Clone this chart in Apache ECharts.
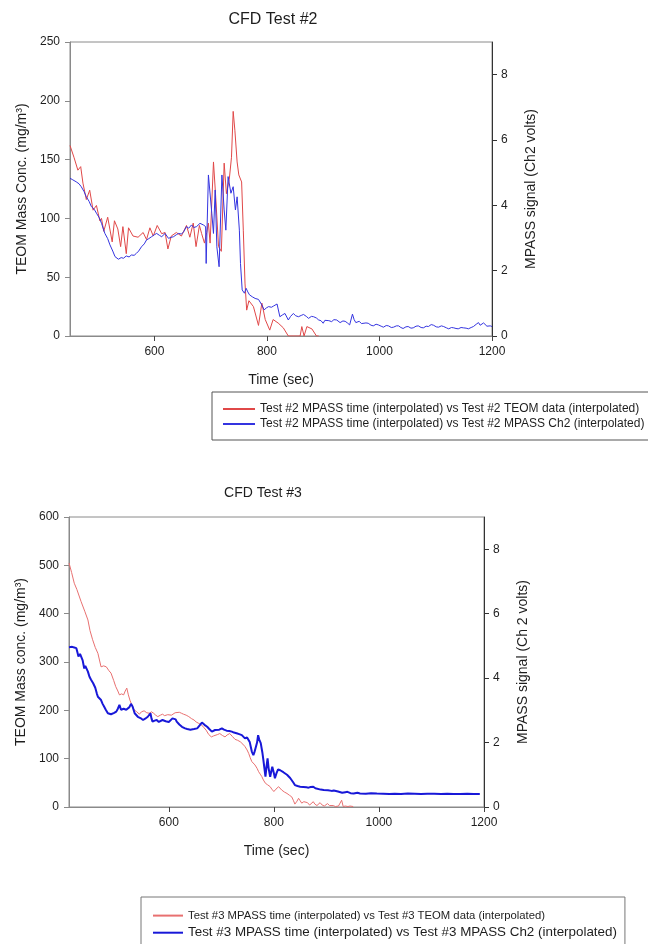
<!DOCTYPE html>
<html>
<head>
<meta charset="utf-8">
<script src="https://cdn.jsdelivr.net/npm/echarts@6/dist/echarts.min.js"></script>
<style>html,body{margin:0;padding:0;background:#fff;}#c{width:648px;height:944px;}</style>
</head>
<body>
<div id="c"></div>
<script>
// ---- Chart 1 (CFD Test #2) data: [time sec, value]
const teom2 = [[450,162],[457,152],[464,141],[469,144],[473,130],[479,116],[485,124],[491,107],[497,111],[503,98],[506,100],[510,89],[517,101],[525,80],[529,98],[535,91],[540,76],[544,93],[550,70],[554,92],[562,85],[571,84],[580,88],[586,82],[592,92],[598,85],[605,94],[613,87],[619,88],[624,74],[630,85],[639,88],[648,85],[657,94],[663,84],[669,96],[674,76],[680,94],[684,87],[689,79],[693,88],[696,96],[699,79],[705,148],[709,118],[714,76],[719,72],[724,147],[728,121],[733,133],[737,152],[740,191],[743,175],[747,148],[750,137],[755,131],[758,90],[761,45],[764,22],[768,30],[776,25],[785,9],[791,28],[797,14],[805,5],[811,14],[820,11],[829,7],[838,0],[848,0],[859,0],[862,8],[866,0],[871,8],[880,6],[888,0],[892,0]];
const mpass2 = [[450,4.83],[455,4.78],[461,4.72],[466,4.66],[470,4.57],[475,4.42],[479,4.26],[484,4.12],[488,3.96],[493,3.88],[497,3.76],[502,3.62],[506,3.45],[512,3.14],[517,2.98],[521,2.79],[526,2.6],[530,2.43],[536,2.35],[541,2.4],[545,2.38],[550,2.45],[555,2.42],[559,2.48],[564,2.47],[568,2.53],[572,2.6],[577,2.73],[582,2.82],[586,2.94],[590,2.98],[595,3.04],[600,3.1],[604,3.14],[609,3.08],[613,3.04],[619,3.14],[625,2.99],[630,3.02],[634,3.04],[639,3.1],[643,3.14],[648,3.12],[652,3.19],[657,3.35],[661,3.3],[666,3.4],[670,3.32],[675,3.35],[681,3.45],[687,3.4],[691,3.35],[692,2.22],[696,4.93],[698,4.98],[702,3.76],[705,3.14],[708,4.47],[711,2.73],[715,2.12],[720,4.93],[724,3.86],[727,3.24],[731,4.88],[736,4.37],[740,4.57],[744,3.86],[747,4.26],[751,3.24],[753,2.22],[756,1.41],[760,1.31],[763,1.46],[766,1.35],[769,1.26],[774,1.2],[779,1.15],[785,1.12],[791,0.95],[795,0.8],[799,0.86],[803,0.9],[808,0.88],[812,0.92],[818,0.98],[823,0.59],[828,0.65],[832,0.69],[838,0.49],[842,0.6],[847,0.69],[851,0.62],[856,0.59],[861,0.63],[865,0.66],[870,0.6],[874,0.54],[879,0.6],[883,0.59],[888,0.55],[892,0.49],[896,0.47],[900,0.39],[903,0.48],[906,0.54],[910,0.47],[915,0.44],[919,0.5],[924,0.49],[930,0.41],[935,0.46],[939,0.45],[943,0.4],[947,0.34],[952,0.67],[955,0.5],[958,0.41],[961,0.47],[964,0.45],[968,0.38],[971,0.34],[976,0.4],[980,0.39],[985,0.33],[989,0.31],[994,0.36],[998,0.34],[1003,0.3],[1007,0.27],[1012,0.32],[1016,0.31],[1021,0.26],[1025,0.27],[1030,0.31],[1034,0.31],[1038,0.26],[1042,0.23],[1047,0.28],[1051,0.29],[1056,0.24],[1060,0.25],[1065,0.3],[1069,0.31],[1074,0.26],[1078,0.25],[1083,0.3],[1087,0.29],[1092,0.35],[1096,0.33],[1101,0.28],[1105,0.27],[1110,0.31],[1114,0.29],[1119,0.25],[1123,0.22],[1128,0.26],[1132,0.25],[1136,0.23],[1140,0.22],[1145,0.26],[1149,0.25],[1154,0.24],[1158,0.22],[1163,0.26],[1167,0.29],[1172,0.36],[1176,0.41],[1179,0.33],[1182,0.34],[1185,0.4],[1188,0.37],[1191,0.3],[1194,0.27],[1197,0.31],[1200,0.29]];

// ---- Chart 2 (CFD Test #3) data: [time sec, value]
const teom3 = [[410,505],[415,485],[420,463],[425,450],[433,425],[440,405],[446,387],[450,365],[455,346],[460,330],[465,318],[471,290],[476,292],[481,290],[486,282],[490,277],[495,262],[499,249],[503,240],[506,232],[510,234],[514,232],[517,240],[520,246],[523,232],[526,221],[530,210],[534,201],[539,197],[544,192],[548,197],[553,199],[558,195],[563,194],[567,197],[571,194],[575,190],[579,187],[584,190],[588,192],[592,189],[595,187],[598,191],[601,194],[605,190],[608,190],[612,195],[615,199],[620,196],[624,194],[628,192],[633,190],[638,187],[643,183],[648,180],[652,176],[657,173],[662,170],[667,164],[671,159],[676,150],[681,145],[685,147],[688,145],[693,150],[697,152],[702,148],[707,145],[711,149],[716,152],[721,146],[726,140],[731,138],[736,135],[741,130],[745,125],[749,118],[752,111],[755,102],[758,94],[761,90],[764,87],[768,80],[771,73],[774,68],[777,63],[780,56],[784,49],[788,46],[793,42],[796,37],[800,32],[804,37],[809,42],[812,38],[815,35],[820,31],[825,28],[830,24],[834,21],[837,14],[840,6],[844,12],[847,18],[850,13],[853,8],[857,11],[860,14],[864,9],[868,4],[871,7],[875,11],[878,6],[882,3],[885,6],[888,9],[892,4],[896,2],[899,5],[902,7],[906,3],[909,2],[913,3],[917,1],[920,3],[923,2],[926,6],[929,14],[932,1],[936,2],[941,1],[945,2],[948,4],[951,1]];
const mpass3 = [[410,4.96],[416,4.97],[420,4.95],[424,4.93],[426,4.8],[428,4.67],[431,4.75],[433,4.77],[436,4.55],[439,4.3],[441,4.38],[443,4.41],[446,4.2],[449,4.04],[452,3.95],[456,3.84],[460,3.7],[463,3.52],[465,3.42],[468,3.45],[471,3.32],[474,3.2],[477,3.11],[480,3.02],[484,2.91],[487,2.95],[490,2.88],[493,2.91],[496,2.92],[500,2.96],[503,3.05],[506,3.17],[509,3.02],[511,2.96],[514,3.05],[516,3.11],[519,3.02],[522,3.0],[525,3.1],[528,3.2],[531,3.12],[535,2.91],[538,2.85],[541,2.8],[546,2.76],[551,2.7],[555,2.74],[560,2.8],[563,2.86],[565,2.91],[567,2.75],[569,2.65],[573,2.68],[577,2.7],[581,2.64],[584,2.6],[588,2.7],[591,2.75],[594,2.66],[596,2.6],[600,2.64],[603,2.7],[607,2.75],[610,2.8],[613,2.72],[615,2.65],[620,2.56],[625,2.49],[628,2.46],[631,2.44],[635,2.42],[638,2.44],[641,2.4],[644,2.39],[648,2.42],[651,2.38],[654,2.44],[658,2.52],[663,2.62],[668,2.55],[673,2.49],[677,2.42],[682,2.34],[685,2.36],[688,2.39],[691,2.37],[696,2.4],[701,2.44],[705,2.4],[710,2.37],[715,2.36],[720,2.34],[724,2.31],[729,2.29],[734,2.26],[739,2.23],[742,2.18],[745,2.13],[749,2.16],[752,2.18],[754,2.02],[756,1.87],[758,1.72],[761,1.61],[763,1.7],[766,1.76],[768,2.0],[770,2.23],[772,2.1],[775,1.98],[778,1.7],[780,1.46],[782,1.2],[784,0.94],[786,1.25],[788,1.51],[790,1.2],[793,0.94],[795,1.1],[797,1.25],[800,1.05],[802,0.89],[805,1.05],[808,1.17],[812,1.14],[815,1.1],[818,1.08],[821,1.05],[825,1.0],[828,0.94],[831,0.9],[834,0.84],[837,0.76],[840,0.68],[845,0.65],[850,0.63],[856,0.62],[862,0.61],[866,0.6],[870,0.62],[875,0.63],[879,0.58],[882,0.56],[889,0.54],[895,0.53],[903,0.52],[910,0.5],[914,0.51],[922,0.48],[930,0.44],[936,0.46],[940,0.47],[946,0.43],[952,0.42],[959,0.44],[964,0.42],[975,0.41],[985,0.43],[996,0.42],[1008,0.41],[1020,0.4],[1030,0.41],[1042,0.4],[1055,0.42],[1068,0.41],[1080,0.4],[1092,0.41],[1105,0.41],[1118,0.4],[1130,0.41],[1142,0.4],[1155,0.4],[1168,0.41],[1180,0.4],[1192,0.4]];

// ---- Tick labels / names
const xTicks = [600, 800, 1000, 1200];
const rightTicks = [0, 2, 4, 6, 8];
const names2 = ['Test #2 MPASS time (interpolated) vs Test #2 TEOM data (interpolated)',
                'Test #2 MPASS time (interpolated) vs Test #2 MPASS Ch2 (interpolated)'];
const names3 = ['Test #3 MPASS time (interpolated) vs Test #3 TEOM data (interpolated)',
                'Test #3 MPASS time (interpolated) vs Test #3 MPASS Ch2 (interpolated)'];

const FONT = "'Liberation Sans', Arial, sans-serif";
const TXT = '#1e1e1e';
const GRAY = '#8a8a8a';
const plain = v => String(v);

function xAxis(grid, min) {
  return {
    type: 'value', gridIndex: grid, min: min, max: 1200,
    name: 'Time (sec)', nameLocation: 'middle', nameGap: 37,
    nameTextStyle: {fontSize: 14, color: TXT, fontFamily: FONT},
    axisLine: {show: true, lineStyle: {color: GRAY, width: 1}},
    axisTick: {show: true, inside: false, length: 5, customValues: xTicks, lineStyle: {color: '#444'}},
    axisLabel: {customValues: xTicks, formatter: plain, margin: 10, fontSize: 12, color: TXT, fontFamily: FONT},
    splitLine: {show: false}
  };
}
function leftAxis(grid, max, interval, name) {
  return {
    type: 'value', gridIndex: grid, position: 'left', min: 0, max: max, interval: interval,
    name: name, nameLocation: 'middle', nameRotate: 90, nameGap: 39,
    nameTextStyle: {fontSize: 14, color: TXT, fontFamily: FONT},
    axisLine: {show: true, lineStyle: {color: GRAY, width: 1}},
    axisTick: {show: true, inside: false, length: 5, lineStyle: {color: GRAY}},
    axisLabel: {formatter: plain, margin: 10, fontSize: 12, color: TXT, fontFamily: FONT},
    splitLine: {show: false}
  };
}
function rightAxis(grid, name) {
  return {
    type: 'value', gridIndex: grid, position: 'right', min: 0, max: 9,
    name: name, nameLocation: 'middle', nameRotate: 90, nameGap: 32,
    nameTextStyle: {fontSize: 14, color: TXT, fontFamily: FONT},
    axisLine: {show: true, lineStyle: {color: '#333', width: 1}},
    axisTick: {show: true, inside: false, length: 5, customValues: rightTicks, lineStyle: {color: '#333'}},
    axisLabel: {customValues: rightTicks, formatter: plain, margin: 9, fontSize: 12, color: TXT, fontFamily: FONT},
    splitLine: {show: false}
  };
}

const chart = echarts.init(document.getElementById('c'), null, {renderer: 'canvas'});
chart.setOption({
  animation: false,
  backgroundColor: '#fff',
  title: [
    {text: 'CFD Test #2', left: 268, top: 7, textAlign: 'center',
     textStyle: {fontSize: 16, fontWeight: 'normal', color: TXT, fontFamily: FONT}},
    {text: 'CFD Test #3', left: 258, top: 481, textAlign: 'center',
     textStyle: {fontSize: 14, fontWeight: 'normal', color: TXT, fontFamily: FONT}}
  ],
  grid: [
    {left: 70, top: 42, width: 422, height: 294, show: true, borderColor: GRAY, borderWidth: 1, containLabel: false},
    {left: 69, top: 517, width: 415, height: 290, show: true, borderColor: GRAY, borderWidth: 1, containLabel: false}
  ],
  xAxis: [xAxis(0, 450), xAxis(1, 410)],
  yAxis: [
    leftAxis(0, 250, 50, 'TEOM Mass Conc. (mg/m\u00B3)'),
    rightAxis(0, 'MPASS signal (Ch2 volts)'),
    leftAxis(1, 600, 100, 'TEOM Mass conc. (mg/m\u00B3)'),
    rightAxis(1, 'MPASS signal (Ch 2 volts)')
  ],
  legend: [
    {orient: 'vertical', left: 212, top: 392, height: 200, padding: [11, 10, 10, 10], itemGap: 3,
     itemWidth: 32, itemHeight: 14, borderColor: '#555', borderWidth: 1, selectedMode: false,
     itemStyle: {opacity: 0},
     textStyle: {fontSize: 12, color: TXT, fontFamily: FONT},
     data: names2},
    {orient: 'vertical', left: 141, top: 897, height: 200, padding: [13, 8, 10, 11], itemGap: 5,
     itemWidth: 30, itemHeight: 14, borderColor: '#777', borderWidth: 1, selectedMode: false,
     itemStyle: {opacity: 0},
     textStyle: {color: TXT, fontFamily: FONT},
     data: [{name: names3[0], textStyle: {fontSize: 11.3}}, {name: names3[1], textStyle: {fontSize: 13.4}}]}
  ],
  series: [
    {name: names2[0], type: 'line', xAxisIndex: 0, yAxisIndex: 0, data: teom2,
     symbol: 'none', lineStyle: {color: '#e04848', width: 1}, itemStyle: {color: '#e04848'}},
    {name: names2[1], type: 'line', xAxisIndex: 0, yAxisIndex: 1, data: mpass2,
     symbol: 'none', lineStyle: {color: '#3434e0', width: 1}, itemStyle: {color: '#3434e0'}},
    {name: names3[0], type: 'line', xAxisIndex: 1, yAxisIndex: 2, data: teom3,
     symbol: 'none', lineStyle: {color: '#e87070', width: 1}, itemStyle: {color: '#e87070'}},
    {name: names3[1], type: 'line', xAxisIndex: 1, yAxisIndex: 3, data: mpass3,
     symbol: 'none', lineStyle: {color: '#1818d8', width: 2}, itemStyle: {color: '#1818d8'}}
  ]
});
</script>
</body>
</html>
